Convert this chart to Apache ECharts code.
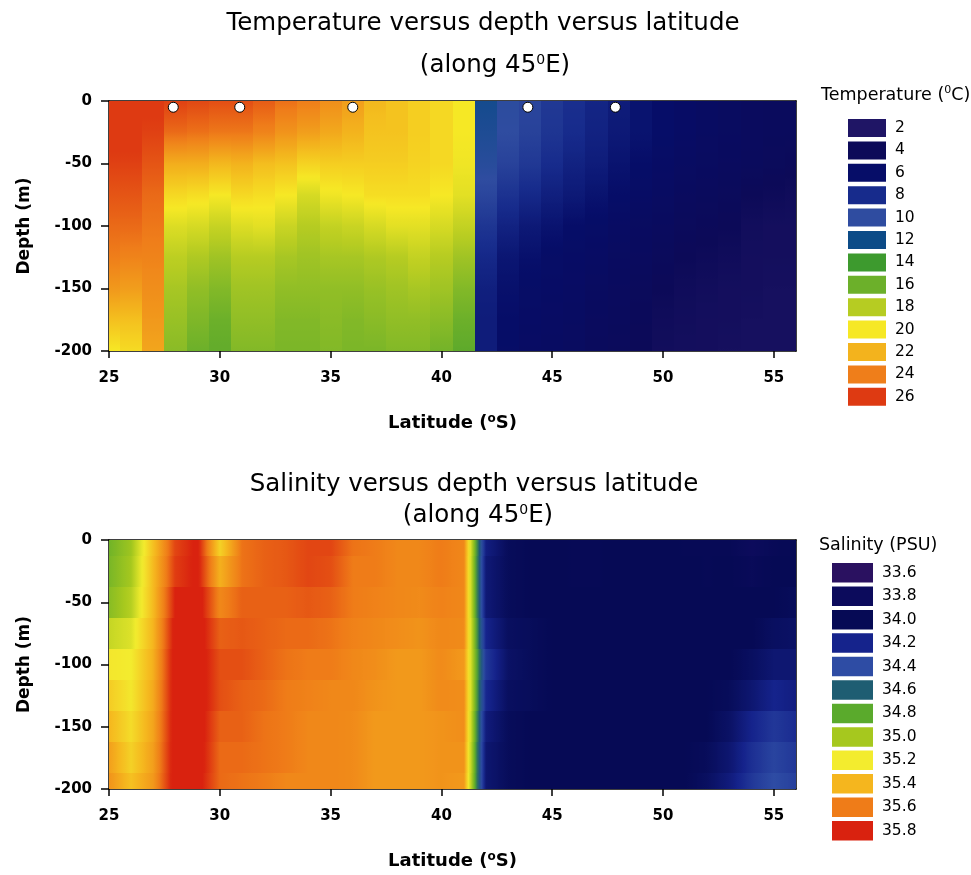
<!DOCTYPE html>
<html>
<head>
<meta charset="utf-8">
<script src="https://cdn.jsdelivr.net/npm/echarts@6/dist/echarts.min.js"></script>
<style>html,body{margin:0;padding:0;background:#fff}#main{width:971px;height:875px}</style>
</head>
<body>
<div id="main"></div>
<script>
// grid of the section: latitude (°S) columns, depth (m) rows
var lats = [25,26,27,28,29,30,31,32,33,34,35,36,37,38,39,40,41,42,43,44,45,46,47,48,49,50,51,52,53,54,55,56];
var depths = [0,-25,-50,-75,-100,-125,-150,-175,-200];
var xTicks = [25,30,35,40,45,50,55];
// CTD stations marked at the surface
var stationLats = [27.9,30.9,36.0,43.9,47.85];
var stationDepth = -5;

// legend levels
var tempLevels = [2,4,6,8,10,12,14,16,18,20,22,24,26];
var salLevels = [33.6,33.8,34.0,34.2,34.4,34.6,34.8,35.0,35.2,35.4,35.6,35.8];

// temperature (°C), one profile per latitude, values at the depths above
var tempProfiles = [
  [26.5,26.3,25.8,25.2,24.6,24.0,23.0,21.5,20.0],
  [26.6,26.3,25.8,25.2,24.6,23.8,22.8,21.5,20.5],
  [26.2,25.8,25.2,24.6,24.2,23.8,23.4,23.0,22.5],
  [25.8,24.6,22.2,20.6,19.2,18.2,17.6,17.2,16.8],
  [25.6,24.4,22.2,20.4,19.0,17.8,17.0,16.5,16.0],
  [25.4,24.2,21.8,20.0,18.5,17.4,16.6,16.0,15.6],
  [25.4,24.2,22.0,20.6,19.2,18.0,17.4,17.0,16.6],
  [25.0,23.8,21.6,20.4,19.4,18.0,17.4,17.0,16.6],
  [24.4,23.2,21.4,20.0,18.6,17.6,17.0,16.6,16.4],
  [24.0,22.8,20.8,19.0,18.0,17.4,17.0,16.6,16.4],
  [23.4,22.4,21.0,19.8,18.4,17.6,17.0,16.8,16.6],
  [22.8,22.0,21.0,20.0,18.6,17.6,17.0,16.6,16.4],
  [21.8,21.4,21.0,20.4,19.0,17.8,17.2,16.8,16.4],
  [21.4,21.4,21.0,20.4,19.4,18.0,17.4,17.0,16.6],
  [21.0,21.0,20.8,20.4,19.4,18.4,17.6,17.0,16.6],
  [20.6,20.6,20.6,20.0,19.0,18.0,17.4,16.8,16.2],
  [20.0,20.0,19.8,19.4,18.4,17.4,16.6,16.0,15.4],
  [11.5,11.0,10.4,9.6,8.6,7.8,7.2,7.0,7.0],
  [10.2,10.0,9.4,8.4,7.4,6.6,6.2,6.0,5.8],
  [9.6,9.4,8.8,7.8,6.8,6.2,5.8,5.6,5.4],
  [8.8,8.6,8.0,7.2,6.4,5.8,5.6,5.4,5.2],
  [8.2,8.0,7.4,6.8,6.0,5.6,5.4,5.2,5.0],
  [7.6,7.4,7.0,6.4,5.8,5.4,5.0,4.8,4.6],
  [7.0,6.8,6.4,6.0,5.4,5.0,4.8,4.6,4.4],
  [6.4,6.4,6.0,5.6,5.0,4.8,4.4,4.2,4.0],
  [6.0,6.0,5.6,5.2,4.8,4.4,4.0,3.6,3.4],
  [5.6,5.6,5.2,4.8,4.4,4.0,3.6,3.4,3.2],
  [5.2,5.2,5.0,4.6,4.2,3.8,3.4,3.2,3.2],
  [5.0,5.0,4.8,4.4,4.0,3.6,3.2,3.2,3.0],
  [4.8,4.8,4.6,4.0,3.4,3.2,3.2,3.0,3.0],
  [4.6,4.6,4.4,3.8,3.2,3.2,3.0,3.0,3.0],
  [4.6,4.6,4.2,3.6,3.2,3.2,3.0,3.0,3.0]
];

// salinity (PSU), one profile per latitude
var salProfiles = [
  [34.86,34.88,34.92,35.08,35.22,35.32,35.40,35.48,35.52],
  [34.98,35.00,35.04,35.14,35.20,35.22,35.26,35.30,35.36],
  [35.36,35.38,35.38,35.40,35.42,35.44,35.46,35.48,35.50],
  [35.72,35.74,35.80,35.84,35.86,35.86,35.86,35.86,35.86],
  [35.82,35.82,35.86,35.86,35.86,35.86,35.86,35.86,35.84],
  [35.30,35.42,35.56,35.66,35.70,35.70,35.66,35.64,35.64],
  [35.62,35.62,35.66,35.68,35.70,35.66,35.66,35.64,35.62],
  [35.66,35.66,35.66,35.66,35.66,35.64,35.62,35.62,35.60],
  [35.68,35.68,35.66,35.64,35.62,35.60,35.60,35.60,35.56],
  [35.72,35.72,35.68,35.64,35.60,35.58,35.56,35.56,35.56],
  [35.72,35.70,35.66,35.62,35.60,35.56,35.56,35.56,35.56],
  [35.62,35.60,35.60,35.58,35.56,35.56,35.55,35.55,35.55],
  [35.60,35.60,35.58,35.56,35.54,35.52,35.50,35.50,35.50],
  [35.56,35.56,35.56,35.54,35.50,35.50,35.50,35.50,35.50],
  [35.56,35.56,35.55,35.52,35.50,35.50,35.50,35.50,35.50],
  [35.60,35.60,35.58,35.56,35.55,35.55,35.52,35.52,35.52],
  [35.56,35.56,35.56,35.55,35.50,35.54,35.54,35.52,35.50],
  [34.16,34.12,34.12,34.20,34.30,34.22,34.14,34.10,34.10],
  [34.02,34.02,34.02,34.04,34.06,34.04,34.02,34.02,34.02],
  [34.00,34.00,34.00,34.02,34.02,34.02,34.00,34.00,34.00],
  [34.00,34.00,34.00,34.00,34.00,34.00,34.00,34.00,34.00],
  [33.98,33.98,34.00,34.00,34.00,34.00,34.00,34.00,34.00],
  [33.98,33.98,34.00,34.00,34.00,34.00,34.00,34.00,34.00],
  [34.00,34.00,34.00,34.00,34.00,34.00,34.00,34.00,34.00],
  [34.00,34.00,34.00,34.00,34.00,34.00,34.00,34.00,34.00],
  [34.00,34.00,34.00,34.00,34.00,34.00,34.00,34.00,34.00],
  [33.98,34.00,34.00,34.00,34.00,34.00,34.00,34.00,34.00],
  [33.96,33.98,34.00,34.00,34.00,34.00,34.00,34.02,34.04],
  [33.96,34.00,34.00,34.00,34.00,34.02,34.06,34.10,34.14],
  [33.80,33.90,34.00,34.00,34.04,34.10,34.20,34.26,34.30],
  [33.94,34.00,34.00,34.04,34.10,34.20,34.30,34.36,34.40],
  [34.00,34.00,34.02,34.06,34.10,34.16,34.24,34.30,34.34]
];

var FONT = 'DejaVu Sans';
var tempColors = ['#1f1565','#0c0a58','#060d68','#172b8c','#2f4ca0','#0c4b87','#3d9a2e','#6cb02a','#b6cc22','#f6e825','#f3b31d','#ef7e1a','#de3a12'];
var salColors = ['#2a1160','#0c0b5c','#060a55','#15238c','#2e4ca4','#1e5d72','#5aaa2c','#a6c81e','#f3ec2e','#f5b61e','#ef7c18','#d9220f'];

var myChart = echarts.init(document.getElementById('main'));

function gridData(profiles) {
    var out = [];
    for (var i = 0; i < lats.length; i++) {
        for (var j = 0; j < depths.length; j++) {
            out.push([lats[i], depths[j], profiles[i][j]]);
        }
    }
    return out;
}

// colour of a value on the legend's colour ramp
function levelColor(v, levels, colors) {
    var t = (v - levels[0]) / (levels[levels.length - 1] - levels[0]);
    return echarts.color.lerp(Math.max(0, Math.min(1, t)), colors);
}
// gradient stops that follow the colour ramp between two grid values
function rampStops(v0, v1, levels, colors) {
    var out = [];
    for (var k = 0; k <= 10; k++) {
        out.push({offset: k / 10, color: levelColor(v0 + (v1 - v0) * k / 10, levels, colors)});
    }
    return out;
}

function cellRect(p0, p1, fill) {
    var x = Math.round(p0[0]), y = Math.round(p0[1]);
    return {
        type: 'rect',
        shape: {x: x, y: y, width: Math.round(p1[0]) - x, height: Math.round(p1[1]) - y},
        style: {fill: fill}
    };
}

// temperature: each cell spans ±0.5° around its latitude, shaded down to the next depth
function tempCell(params, api) {
    var idx = params.dataIndexInside;
    var i = Math.floor(idx / depths.length), j = idx % depths.length;
    if (j === depths.length - 1) return null;
    var lat = api.value(0);
    var x0 = Math.max(lat - 0.5, lats[0]);
    var x1 = Math.min(lat + 0.5, lats[lats.length - 1]);
    var p0 = api.coord([x0, depths[j]]);
    var p1 = api.coord([x1, depths[j + 1]]);
    var v0 = api.value(2), v1 = tempProfiles[i][j + 1];
    return cellRect(p0, p1, new echarts.graphic.LinearGradient(0, 0, 0, 1, rampStops(v0, v1, tempLevels, tempColors)));
}

// salinity: each cell spans ±half a depth step, shaded across to the next latitude
function salCell(params, api) {
    var idx = params.dataIndexInside;
    var i = Math.floor(idx / depths.length), j = idx % depths.length;
    if (i === lats.length - 1) return null;
    var half = (depths[0] - depths[1]) / 2;
    var d = api.value(1);
    var y0 = Math.min(d + half, depths[0]);
    var y1 = Math.max(d - half, depths[depths.length - 1]);
    var p0 = api.coord([lats[i], y0]);
    var p1 = api.coord([lats[i + 1], y1]);
    var v0 = api.value(2), v1 = salProfiles[i + 1][j];
    return cellRect(p0, p1, new echarts.graphic.LinearGradient(0, 0, 1, 0, rampStops(v0, v1, salLevels, salColors)));
}

var supStyle = function (size, weight) {
    return {fontFamily: FONT, fontSize: size, fontWeight: weight, color: '#000', lineHeight: size, verticalAlign: 'top'};
};

function titleText(text, x, y, size) {
    return {
        text: text, left: x, top: y, textAlign: 'center', padding: 0,
        textStyle: {fontFamily: FONT, fontSize: size, fontWeight: 'normal', color: '#000', lineHeight: 26,
            rich: {sup: supStyle(14, 'normal')}}
    };
}

function legendTitle(text, x, y) {
    return {
        text: text, left: x, top: y, padding: 0,
        textStyle: {fontFamily: FONT, fontSize: 17.5, fontWeight: 'normal', color: '#000', lineHeight: 20,
            rich: {sup: supStyle(11, 'normal')}}
    };
}

var blackLine = {color: '#000', width: 1.5};

function xBottom(g) {
    return {
        type: 'value', gridIndex: g, min: 25, max: 56, position: 'bottom',
        name: 'Latitude ({sup|o}S)', nameLocation: 'middle', nameGap: 62,
        nameTextStyle: {fontFamily: FONT, fontSize: 18, fontWeight: 'bold', color: '#000', lineHeight: 20,
            rich: {sup: supStyle(12, 'bold')}},
        axisLine: {show: true, onZero: false, lineStyle: blackLine},
        axisTick: {show: true, inside: false, length: 7, customValues: xTicks, lineStyle: blackLine},
        axisLabel: {customValues: xTicks, margin: 20, fontFamily: FONT, fontSize: 15, fontWeight: 'bold', color: '#000'},
        splitLine: {show: false}
    };
}
function xTop(g) {
    return {
        type: 'value', gridIndex: g, min: 25, max: 56, position: 'top',
        axisLine: {show: true, onZero: false, lineStyle: blackLine},
        axisTick: {show: false}, axisLabel: {show: false}, splitLine: {show: false}
    };
}
function yLeft(g) {
    return {
        type: 'value', gridIndex: g, min: -200, max: 0, interval: 50, position: 'left',
        name: 'Depth (m)', nameLocation: 'middle', nameGap: 76,
        nameTextStyle: {fontFamily: FONT, fontSize: 17, fontWeight: 'bold', color: '#000'},
        axisLine: {show: true, onZero: false, lineStyle: blackLine},
        axisTick: {show: true, inside: false, length: 8, lineStyle: blackLine},
        axisLabel: {margin: 17, fontFamily: FONT, fontSize: 15, fontWeight: 'bold', color: '#000'},
        splitLine: {show: false}
    };
}
function yRight(g) {
    return {
        type: 'value', gridIndex: g, min: -200, max: 0, position: 'right',
        axisLine: {show: true, onZero: false, lineStyle: blackLine},
        axisTick: {show: false}, axisLabel: {show: false}, splitLine: {show: false}
    };
}

function pieceList(levels, colors, half, digits) {
    return levels.map(function (v, k) {
        return {min: v - half, max: v + half, label: v.toFixed(digits), color: colors[k]};
    });
}

var option = {
    backgroundColor: '#fff',
    animation: false,
    title: [
        titleText('Temperature versus depth versus latitude', 483, 11, 24.5),
        titleText('(along 45{sup|0}E)', 495, 53, 24.5),
        titleText('Salinity versus depth versus latitude', 474, 472, 24.5),
        titleText('(along 45{sup|0}E)', 478, 503, 24.5),
        legendTitle('Temperature ({sup|0}C)', 821, 85),
        legendTitle('Salinity (PSU)', 819, 535)
    ],
    grid: [
        {left: 109, top: 101, width: 687, height: 250, outerBoundsMode: 'none'},
        {left: 109, top: 540, width: 687, height: 249, outerBoundsMode: 'none'}
    ],
    xAxis: [xBottom(0), xTop(0), xBottom(1), xTop(1)],
    yAxis: [yLeft(0), yRight(0), yLeft(1), yRight(1)],
    // colour keys only; they are tied to an empty series so they colour nothing
    visualMap: [
        {
            type: 'piecewise', seriesIndex: 3, orient: 'vertical', inverse: true, align: 'left',
            left: 848, top: 119, padding: 0, itemWidth: 38, itemHeight: 18, itemGap: 4.4, textGap: 9,
            itemSymbol: 'rect', pieces: pieceList(tempLevels, tempColors, 1, 0),
            textStyle: {fontFamily: FONT, fontSize: 15.5, color: '#000'}
        },
        {
            type: 'piecewise', seriesIndex: 3, orient: 'vertical', inverse: true, align: 'left',
            left: 832, top: 563, padding: 0, itemWidth: 41, itemHeight: 19.5, itemGap: 3.95, textGap: 9,
            itemSymbol: 'rect', pieces: pieceList(salLevels, salColors, 0.1, 1),
            textStyle: {fontFamily: FONT, fontSize: 15.5, color: '#000'}
        }
    ],
    series: [
        {
            type: 'custom', xAxisIndex: 0, yAxisIndex: 0, silent: true,
            renderItem: tempCell, encode: {x: 0, y: 1}, data: gridData(tempProfiles)
        },
        {
            type: 'scatter', xAxisIndex: 0, yAxisIndex: 0, silent: true, z: 5,
            symbol: 'circle', symbolSize: 10,
            itemStyle: {color: '#fff', borderColor: '#000', borderWidth: 1, opacity: 1},
            data: stationLats.map(function (l) { return [l, stationDepth]; })
        },
        {
            type: 'custom', xAxisIndex: 2, yAxisIndex: 2, silent: true,
            renderItem: salCell, encode: {x: 0, y: 1}, data: gridData(salProfiles)
        },
        {type: 'scatter', xAxisIndex: 2, yAxisIndex: 2, silent: true, data: []}
    ]
};
myChart.setOption(option);
</script>
</body>
</html>
